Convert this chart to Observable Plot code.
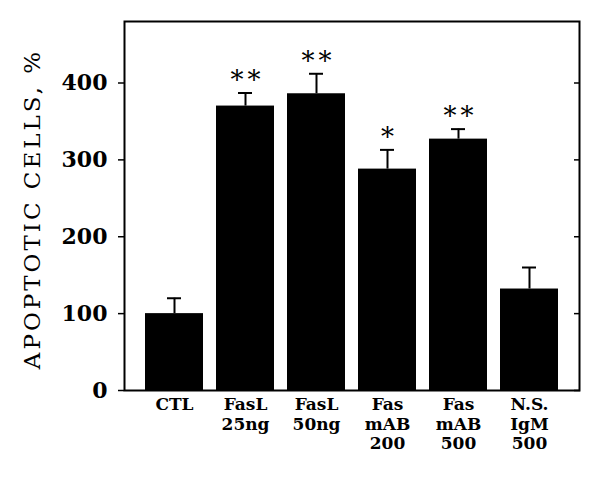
<!DOCTYPE html>
<html>
<head>
<meta charset="utf-8">
<script src="https://cdn.jsdelivr.net/npm/d3@7"></script>
<script src="https://cdn.jsdelivr.net/npm/@observablehq/plot@0.6"></script>
<style>
  html, body { margin: 0; padding: 0; background: white; }
</style>
</head>
<body>
<div id="chart"></div>
<script>
const categories = ["CTL", "FasL\n25ng", "FasL\n50ng", "Fas\nmAB\n200", "Fas\nmAB\n500", "N.S.\nIgM\n500"];
const values = [100, 370, 386, 288, 327, 132];
const errors = [20, 17, 26, 25, 13, 28];
const stars = ["", "**", "**", "*", "**", ""];
const yTicks = [0, 100, 200, 300, 400];
const yLabel = "APOPTOTIC CELLS, %";

const data = categories.map((c, i) => ({cat: c, value: values[i], err: errors[i], star: stars[i]}));

const chart = Plot.plot({
  width: 600,
  height: 482,
  marginLeft: 124,
  marginRight: 21,
  marginTop: 21,
  marginBottom: 92,
  style: {fontFamily: "DejaVu Serif", background: "white", color: "black", overflow: "visible"},
  x: {domain: categories, paddingInner: 0.187, paddingOuter: 0.29, label: null},
  y: {domain: [0, 480], label: null},
  marks: [
    Plot.barY(data, {x: "cat", y: "value", fill: "black"}),
    Plot.ruleX(data, {x: "cat", y1: "value", y2: d => d.value + d.err, stroke: "black", strokeWidth: 2}),
    Plot.tickY(data, {x: "cat", y: d => d.value + d.err, stroke: "black", strokeWidth: 2, insetLeft: 22, insetRight: 22}),
    Plot.text(data, {x: "cat", y: d => d.value + d.err, text: "star", dy: -12, dx: 2, fontSize: 26, fill: "black", className: "stars"}),
    Plot.frame({stroke: "black", strokeWidth: 2}),
    Plot.axisY(yTicks, {anchor: "left", tickSize: 6, tickPadding: 11, fontSize: 22, fontWeight: "bold", label: null, strokeWidth: 1.5}),
    Plot.axisY(yTicks, {anchor: "right", tickSize: 6, dx: -6, tickFormat: () => "", label: null, strokeWidth: 1.5}),
    Plot.axisX({anchor: "bottom", tickSize: 0, tickPadding: 6, fontSize: 17, lineHeight: 1.15, fontWeight: "bold", label: null}),
    Plot.text([yLabel], {frameAnchor: "left", text: d => d, rotate: -90, textAnchor: "middle", dx: -92, dy: 3, fontSize: 23, fill: "black"})
  ]
});

d3.select(chart).selectAll("text").filter(function() { return this.textContent === yLabel; })
  .attr("letter-spacing", "3px");
d3.select(chart).selectAll(".stars text").attr("letter-spacing", "4px");

document.getElementById("chart").appendChild(chart);
</script>
</body>
</html>
